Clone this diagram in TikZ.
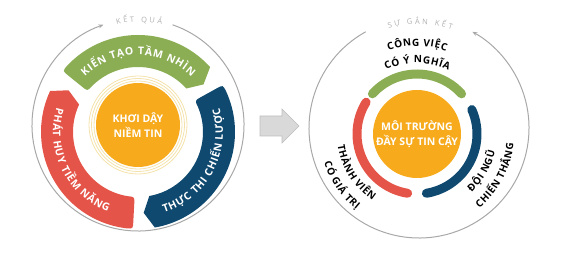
\documentclass[tikz,border=0pt]{standalone}
\usepackage{fontspec}
\setmainfont{Open Sans}
\usetikzlibrary{arrows.meta,decorations.text}

\definecolor{bandgreen}{RGB}{139,174,84}
\definecolor{bandblue}{RGB}{15,73,112}
\definecolor{bandred}{RGB}{229,84,72}
\definecolor{coreorange}{RGB}{246,170,28}
\definecolor{ringgray}{RGB}{168,168,168}
\definecolor{taggray}{RGB}{175,175,175}
\definecolor{arrowfill}{RGB}{217,217,217}
\definecolor{arrowline}{RGB}{190,190,190}
\definecolor{halocol}{RGB}{244,226,170}

\newcommand\bandtxt{\bfseries\fontsize{10.5}{12}\selectfont\color{white}\kern0.7pt}
\newcommand\labeltxt{\bfseries\fontsize{10}{12}\selectfont\color{black}\kern0.6pt}
\newcommand\tagtxt{\fontsize{7.5}{9}\selectfont\color{taggray}\kern2.4pt}

% arc texts
\uppercase{\gdef\txtresult{|\tagtxt|kết quả}}
\uppercase{\gdef\txtbond{|\tagtxt|sự gắn kết}}
\uppercase{\gdef\txtvision{|\bandtxt|kiến tạo tầm nhìn}}
\uppercase{\gdef\txtexecute{|\bandtxt|thực thi chiến lược}}
\uppercase{\gdef\txtpotential{|\bandtxt|phát huy tiềm năng}}
\uppercase{\gdef\txtworka{|\labeltxt|công việc}}
\uppercase{\gdef\txtworkb{|\labeltxt|có ý nghĩa}}
\uppercase{\gdef\txtmembera{|\labeltxt|thành viên}}
\uppercase{\gdef\txtmemberb{|\labeltxt|có giá trị}}
\uppercase{\gdef\txtteama{|\labeltxt|đội ngũ}}
\uppercase{\gdef\txtteamb{|\labeltxt|chiến thắng}}

\tikzset{
  outer ring/.style={draw=ringgray, line width=1pt},
  ring arc/.style={draw=#1, line width=9pt, line cap=round},
  core text/.style={text=white, align=center, font=\bfseries\fontsize{10.5}{15}\selectfont},
  arc text/.style={decorate, decoration={text along path, text align=center, text/.expand once=#1}}
}

\begin{document}
\begin{tikzpicture}[x=1pt, y=1pt, >={Stealth[length=5pt,width=4pt]}]
\useasboundingbox (0,0) rectangle (588,267);

% ==================== left: KET QUA ====================
\begin{scope}[shift={(138,142)}]
  % outer ring
  \draw[outer ring, ->] (71:106) arc[start angle=71, end angle=-251, radius=106];
  \path[arc text=\txtresult] (150:103) arc[start angle=150, end angle=30, radius=103];

  % core
  \foreach \rr in {44,46.5,49} \draw[halocol, line width=0.8pt] (0,0) circle (\rr);
  \fill[coreorange] (0,0) circle (42);
  \node[core text] (spark) at (0,0) {\MakeUppercase{khơi dậy}\\\MakeUppercase{niềm tin}};
\end{scope}

\begin{scope}[shift={(138,135)}]
  % bands: tail (rounded) / head corner
  \foreach \col/\tl/\hd in {bandgreen/141/42, bandblue/29/-80, bandred/267/155} {
    \fill[\col] ({\tl}:72) -- ({\tl}:90) .. controls ({\tl}:97) .. ({\tl-4}:97)
      arc[start angle=\tl-4, end angle=\hd, radius=97] -- ({\hd-6}:81) -- ({\hd}:65)
      arc[start angle=\hd, end angle=\tl-6, radius=65] .. controls ({\tl}:65) .. ({\tl}:72) -- cycle;
  }
  \path[arc text=\txtvision] (170:77) arc[start angle=170, end angle=10, radius=77];
  \path[arc text=\txtexecute] (-118:85) arc[start angle=-118, end angle=62, radius=85];
  \path[arc text=\txtpotential] (116:85) arc[start angle=116, end angle=296, radius=85];
\end{scope}

% ==================== arrow ====================
\draw[fill=arrowfill, draw=arrowline, line width=0.6pt] (260,131) -- (282,131) -- (282,124) -- (299,141)
  -- (282,158) -- (282,151) -- (260,151) -- cycle;

% ==================== right: SU GAN KET ====================
\begin{scope}[shift={(419,139)}]
  \draw[outer ring, ->] (119:110) arc[start angle=119, end angle=421, radius=110];
  \path[arc text=\txtbond] (150:104) arc[start angle=150, end angle=30, radius=104];
\end{scope}

\begin{scope}[shift={(417,133)}]
  \fill[coreorange] (0,0) circle (44);
  \node[core text] (trust) at (0,0) {\MakeUppercase{môi trường}\\\MakeUppercase{đầy sự tin cậy}};

  % ring
  \draw[ring arc=bandgreen] (138:60) arc[start angle=138, end angle=42, radius=60];
  \draw[ring arc=bandblue] (24:60) arc[start angle=24, end angle=-81, radius=60];
  \draw[ring arc=bandred] (148:60) arc[start angle=148, end angle=261, radius=60];

  % labels
  \path[arc text=\txtworka] (170:88) arc[start angle=170, end angle=10, radius=88];
  \path[arc text=\txtworkb] (170:71) arc[start angle=170, end angle=10, radius=71];
  \path[arc text=\txtmembera] (122:80) arc[start angle=122, end angle=302, radius=80];
  \path[arc text=\txtmemberb] (124:97) arc[start angle=124, end angle=304, radius=97];
  \path[arc text=\txtteama] (-120:80) arc[start angle=-120, end angle=60, radius=80];
  \path[arc text=\txtteamb] (-118:97) arc[start angle=-118, end angle=62, radius=97];
\end{scope}

\end{tikzpicture}
\end{document}
